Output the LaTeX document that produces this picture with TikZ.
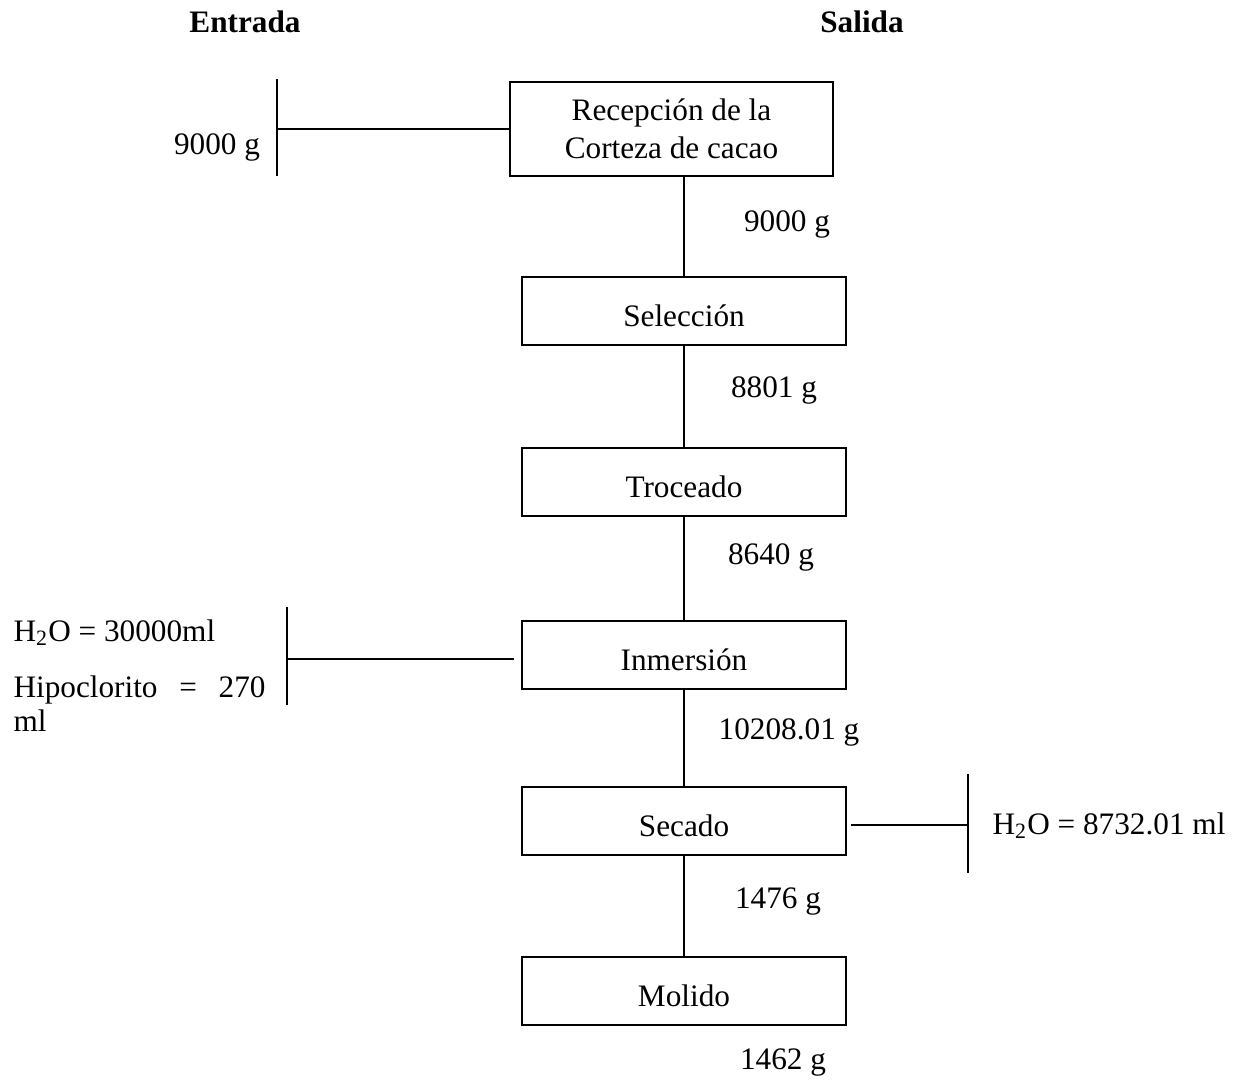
\documentclass[tikz,border=0pt]{standalone}
\usepackage{fontspec}
\setmainfont{Liberation Serif}
\usetikzlibrary{positioning}

\begin{document}
\begin{tikzpicture}[x=0.4pt, y=-0.4pt,
      etapa/.style={draw, line width=0.8pt, minimum width=129.6pt, minimum height=27pt, inner sep=1pt, text height=13pt, text depth=1pt, align=center, font=\fontsize{12.5}{15}\selectfont},
      dato/.style={anchor=base, inner sep=0pt, font=\fontsize{12.5}{15}\selectfont},
      linea/.style={line width=0.45pt}]
    \useasboundingbox (0,0) rectangle (1235,1082);
    % encabezados
    \node[dato, font=\fontsize{12.5}{15}\selectfont\bfseries] (ent) at (245,32) {Entrada};
    \node[dato, font=\fontsize{12.5}{15}\selectfont\bfseries] (sal) at (862,32) {Salida};
    % etapas
    \node[etapa, minimum width=129.2pt, minimum height=37.6pt, text height=, text depth=, yshift=-1.2pt] (rec) at (671.5,126) {Recepción de la\\Corteza de cacao};
    \node[etapa] (sel) at (684,311) {Selección};
    \node[etapa] (tro) at (684,482) {Troceado};
    \node[etapa] (inm) at (684,655) {Inmersión};
    \node[etapa] (sec) at (684,821) {Secado};
    \node[etapa] (mol) at (684,991) {Molido};
    % flujo principal
    \draw[linea] (sel.north |- rec.south) -- (sel.north);
    \draw[linea] (sel) -- (tro); \draw[linea] (tro) -- (inm);
    \draw[linea] (inm) -- (sec); \draw[linea] (sec) -- (mol);
    \node[dato] (m1) at (787,231) {9000 g};
    \node[dato] (m2) at (774,397) {8801 g};
    \node[dato] (m3) at (771,564) {8640 g};
    \node[dato] (m4) at (789,739) {10208.01 g};
    \node[dato] (m5) at (778,908) {1476 g};
    \node[dato] (m6) at (783,1069) {1462 g};
    % entrada de corteza
    \coordinate (ea1) at (277,79); \coordinate (ea2) at (277,176);
    \draw[linea] (ea1) -- (ea2);
    \draw[linea] (rec.west) -- (rec.west -| ea1);
    \node[dato] (e1) at (217,154) {9000 g};
    % entrada de agua e hipoclorito
    \coordinate (eb1) at (287,607); \coordinate (eb2) at (287,705);
    \draw[linea] (eb1) -- (eb2);
    \draw[linea, shorten <=3pt] (inm.west |- 0,659) -- (eb1 |- 0,659);
    \node[dato, anchor=base west] (e2) at (13,641) {H\textsubscript{2}O = 30000ml};
    \node[dato, anchor=base west] (e3) at (13,697) {\makebox[100.8pt][s]{Hipoclorito\hfill=\hfill270}};
    \node[dato, anchor=base west] (e4) at (13,731) {ml};
    % salida de agua
    \coordinate (sa1) at (968,774); \coordinate (sa2) at (968,873);
    \draw[line width=0.9pt] (sa1) -- (sa2);
    \draw[line width=0.9pt, shorten <=1.6pt] (sec.east |- 0,825) -- (sa1 |- 0,825);
    \node[dato, anchor=base west] (s1) at (992,834) {H\textsubscript{2}O = 8732.01 ml};
  \end{tikzpicture}
\end{document}
